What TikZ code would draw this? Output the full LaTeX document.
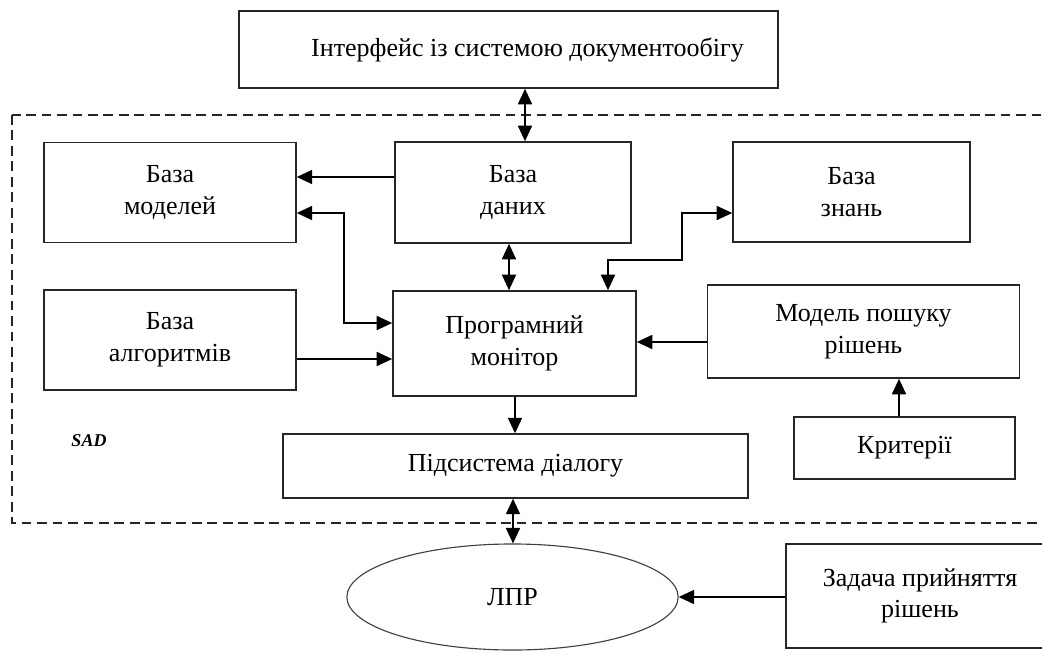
\documentclass[tikz,border=0pt]{standalone}
\usepackage{fontspec}
\setmainfont{Liberation Serif}
\usetikzlibrary{arrows.meta,shapes.geometric}

\begin{document}
\begin{tikzpicture}[x=0.025cm, y=-0.025cm, >={Triangle[length=11pt,width=10pt]},
	blok/.style={draw=black!85, line width=1pt, align=center, inner sep=0pt, font=\fontsize{18.5}{22.5}\selectfont},
	lnk/.style={line width=1.1pt}]
	\useasboundingbox (0,0) rectangle (1042,653);
	\clip (0,0) rectangle (1042,653);
	% SAD
	\draw[line width=1.1pt, dash pattern=on 7pt off 4pt, black!85] (12,115) rectangle (1070,523);
	\node (sad) at (89,441) {\fontsize{12.8}{14}\selectfont\bfseries\itshape SAD};
	% blocks
	\node[blok, minimum width=13.48cm, minimum height=1.93cm] (iface) at (508.5,49.5) {\raisebox{4pt}{\hspace*{27pt}Інтерфейс із системою документообігу}};
	\node[blok, minimum width=6.3cm, minimum height=2.5cm] (models) at (170,192.5) {База\\моделей};
	\node[blok, minimum width=5.9cm, minimum height=2.53cm] (data) at (513,192.5) {База\\даних};
	\node[blok, minimum width=5.93cm, minimum height=2.5cm] (knowl) at (851.5,192) {База\\знань};
	\node[blok, minimum width=6.3cm, minimum height=2.5cm] (algo) at (170,340) {База\\алгоритмів};
	\node[blok, minimum width=6.08cm, minimum height=2.63cm] (monitor) at (514.5,343.5) {Програмний\\монітор};
	\node[blok, minimum width=7.8cm, minimum height=2.33cm] (search) at (863.5,331.5) {Модель пошуку\\рішень};
	\node[blok, minimum width=5.52cm, minimum height=1.55cm] (crit) at (904.5,448) {Критерії};
	\node[blok, minimum width=11.63cm, minimum height=1.6cm] (dialog) at (515.5,466) {Підсистема діалогу};
	\node[blok, ellipse, draw=black!75, line width=0.8pt, minimum width=8.28cm, minimum height=2.65cm] (lpr) at (512.5,597) {ЛПР};
	\node[blok, minimum width=6.7cm, minimum height=2.6cm] (task) at (920,596) {Задача прийняття\\рішень};
	% links
	\draw[lnk, <->] (iface.south -| 525,0) -- (data.north -| 525,0);
	\draw[lnk, ->] (data.west |- 0,177) -- (models.east |- 0,177);
	\draw[lnk, <->] (monitor.west |- 0,323) -| (344,213) -- (models.east |- 0,213);
	\draw[lnk, ->] (algo.east |- 0,359) -- (monitor.west |- 0,359);
	\draw[lnk, <->] (data.south -| 509,0) -- (monitor.north -| 509,0);
	\draw[lnk, <->] (monitor.north -| 608,0) |- (682,260) |- (knowl.west |- 0,213);
	\draw[lnk, ->] (search.west |- 0,342) -- (monitor.east |- 0,342);
	\draw[lnk, ->] (crit.north -| 899,0) -- (search.south -| 899,0);
	\draw[lnk, ->] (monitor.south -| 515,0) -- (dialog.north -| 515,0);
	\draw[lnk, <->] (dialog.south -| 513,0) -- (lpr.north -| 513,0);
	\draw[lnk, ->] (task.west |- lpr.east) -- (lpr.east);
\end{tikzpicture}
\end{document}
